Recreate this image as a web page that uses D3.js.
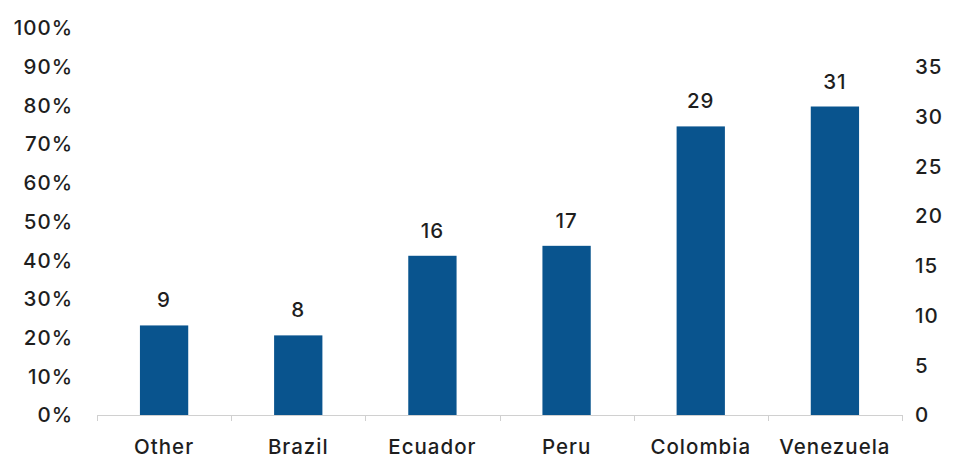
<!DOCTYPE html>
<html>
<head>
<meta charset="utf-8">
<script src="https://cdn.jsdelivr.net/npm/d3@7"></script>
<style>
  html, body { margin: 0; padding: 0; background: #fff; }
  svg text { font-family: Inter, "Open Sans", sans-serif; fill: #1e1e1e; font-size: 20.5px; font-weight: 500; letter-spacing: 1px; }
</style>
</head>
<body>
<svg id="chart" width="959" height="460"></svg>
<script>
// Countries and their counts (plotted on the right-hand axis)
const categories = ["Other", "Brazil", "Ecuador", "Peru", "Colombia", "Venezuela"];
const values = [9, 8, 16, 17, 29, 31];
// Tick labels of the two vertical axes
const leftTicks = [0, 0.1, 0.2, 0.3, 0.4, 0.5, 0.6, 0.7, 0.8, 0.9, 1.0];
const rightTicks = [0, 5, 10, 15, 20, 25, 30, 35];

const svg = d3.select("#chart");
const baseY = 415, topY = 28;
const x0 = 97, x1 = 902;

const x = d3.scaleBand().domain(categories).range([x0, x1]).paddingInner(0.64).paddingOuter(0.32);
const yLeft = d3.scaleLinear().domain([0, 1]).range([baseY, topY]);
// right axis: 35 sits level with 90%
const yRight = d3.scaleLinear().domain([0, 35]).range([baseY, yLeft(0.9)]);

// left percentage labels
svg.append("g").selectAll("text").data(leftTicks).join("text")
  .attr("x", 73).attr("y", d => yLeft(d)).attr("dy", "0.36em")
  .attr("text-anchor", "end")
  .text(d => d3.format(".0%")(d));

// right count labels
svg.append("g").selectAll("text").data(rightTicks).join("text")
  .attr("x", 915).attr("y", d => yRight(d)).attr("dy", "0.36em")
  .attr("text-anchor", "start")
  .text(d => d);

// bars
svg.append("g").selectAll("rect").data(values).join("rect")
  .attr("x", (d, i) => x(categories[i]))
  .attr("y", d => yRight(d))
  .attr("width", x.bandwidth())
  .attr("height", d => baseY - yRight(d))
  .attr("fill", "#09548e");

// value labels
svg.append("g").selectAll("text").data(values).join("text")
  .attr("x", (d, i) => x(categories[i]) + x.bandwidth() / 2)
  .attr("y", d => yRight(d) - 18)
  .attr("text-anchor", "middle")
  .text(d => d);

// category axis along the baseline
const step = (x1 - x0) / categories.length;
const axisG = svg.append("g");
axisG.append("line").attr("x1", x0).attr("x2", x1).attr("y1", baseY + 0.5).attr("y2", baseY + 0.5)
  .attr("stroke", "#d0d0d0").attr("stroke-width", 1);
axisG.selectAll("line.tick").data(d3.range(categories.length + 1)).join("line")
  .attr("class", "tick")
  .attr("x1", i => Math.round(x0 + i * step) + 0.5).attr("x2", i => Math.round(x0 + i * step) + 0.5)
  .attr("y1", baseY).attr("y2", baseY + 6)
  .attr("stroke", "#d0d0d0").attr("stroke-width", 1);
axisG.selectAll("text").data(categories).join("text")
  .attr("x", d => x(d) + x.bandwidth() / 2)
  .attr("y", 454)
  .attr("text-anchor", "middle")
  .text(d => d);
</script>
</body>
</html>
